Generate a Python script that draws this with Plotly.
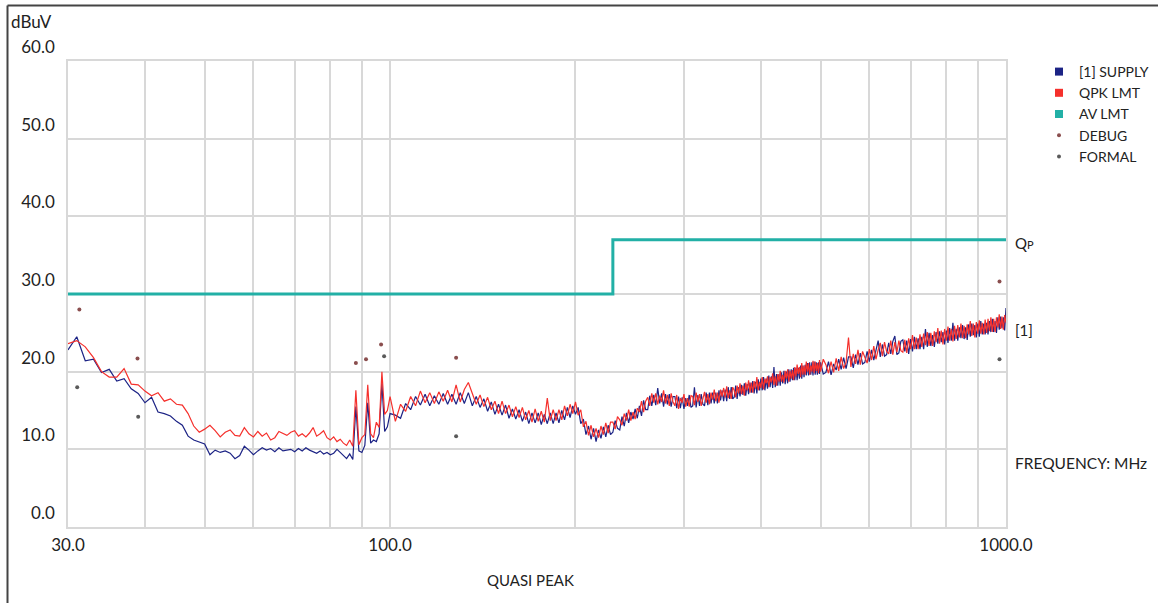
import math
import plotly.graph_objects as go

# ---------------- data ----------------
# sweep frequencies (MHz)
F_LOW = list(range(30, 100))          # 1 MHz step
F_MID = list(range(100, 230, 2))      # 2 MHz step
F_HIGH_A = list(range(230, 500, 2))   # 2 MHz step
F_HIGH_B = list(range(500, 1001, 5))  # 5 MHz step

# [1] SUPPLY trace (dBuV)
SUPPLY_LOW = [
    22.8, 24.5, 21.4, 21.6, 19.9, 20.3, 18.8, 19.1, 17.8, 17.2,
    16.0, 16.7, 14.8, 14.6, 14.3, 13.6, 13.1, 11.7, 11.2, 10.9,
    10.7, 9.3, 9.9, 9.6, 9.8, 9.5, 8.8, 9.2, 10.4, 9.9,
    9.3, 9.8, 10.2, 9.9, 10.1, 9.7, 10.2, 9.8, 9.9, 10.0,
    9.7, 10.1, 9.8, 10.2, 9.9, 9.7, 9.5, 9.8, 9.4, 9.6,
    9.3, 9.5, 10.0, 9.6, 9.2, 8.8, 9.4, 8.7, 15.5, 9.8,
    9.6, 10.5, 16.0, 10.8, 11.2, 11.0, 12.0, 18.5, 12.3, 12.9,
]
SUPPLY_MID = [
    14.6, 14.4, 14.0, 15.9, 15.1, 16.8, 15.7, 17.1, 15.6, 16.9,
    15.8, 17.2, 15.8, 17.1, 15.8, 17.3, 15.9, 17.3, 15.6, 16.8,
    15.4, 16.5, 14.9, 16.1, 14.5, 15.8, 14.4, 15.7, 14.0, 15.2,
    13.9, 15.1, 13.6, 14.8, 13.3, 14.7, 13.4, 14.7, 13.2, 14.5,
    13.3, 14.7, 13.3, 14.7, 13.4, 15.0, 13.8, 15.4, 14.1, 15.6,
    14.5, 15.4, 13.3, 13.9, 11.9, 13.0, 11.3, 12.7, 11.0, 12.5,
    11.4, 12.9, 11.6, 13.1, 11.9,
]
SUPPLY_HIGH_A = [
    12.2, 13.7, 12.7, 12.5, 14.2, 13.0, 14.7, 13.4, 14.8, 13.9,
    15.2, 14.0, 15.6, 14.3, 16.3, 15.1, 15.1, 16.9, 15.6, 17.0,
    15.7, 17.9, 15.9, 17.2, 15.5, 17.1, 15.8, 17.1, 15.5, 16.8,
    16.8, 15.3, 16.8, 15.3, 16.7, 15.2, 16.6, 15.6, 17.0, 15.4,
    15.6, 18.0, 15.4, 17.0, 15.6, 17.1, 15.8, 15.6, 17.3, 15.7,
    17.3, 15.9, 17.3, 15.9, 17.3, 15.9, 17.6, 16.3, 17.6, 16.2,
    17.7, 16.2, 18.0, 16.5, 18.0, 16.5, 16.7, 18.2, 16.5, 18.0,
    16.8, 18.3, 17.0, 18.5, 16.9, 18.4, 17.1, 18.6, 17.3, 18.8,
    17.2, 18.7, 17.2, 19.0, 17.6, 19.1, 17.6, 19.3, 17.6, 19.1,
    17.8, 19.5, 18.0, 19.4, 17.9, 20.6, 18.0, 19.7, 18.2, 19.7,
    18.2, 19.9, 18.5, 20.1, 18.4, 20.0, 18.5, 20.3, 18.7, 20.3,
    18.9, 20.5, 18.9, 20.5, 18.9, 20.5, 19.1, 20.8, 19.1, 20.8,
    19.3, 20.9, 19.5, 21.1, 19.5, 21.2, 19.6, 21.2, 19.5, 21.3,
    19.6, 21.2, 19.6, 21.2, 19.7,
]
SUPPLY_HIGH_B = [
    21.2, 19.7, 19.9, 21.3, 19.6, 21.0,
    20.2, 21.6, 20.3, 21.8, 20.4, 21.9, 21.9, 20.5, 22.2, 20.9,
    22.4, 21.0, 21.2, 22.6, 21.3, 22.8, 21.5, 23.0, 24.0, 21.9,
    23.5, 22.0, 22.2, 23.7, 22.3, 23.9, 24.6, 22.2, 22.4, 23.9,
    24.1, 22.6, 24.0, 22.3, 24.2, 22.6, 24.5, 22.9, 24.3, 22.9,
    24.5, 22.9, 25.5, 23.2, 25.0, 23.3, 24.7, 23.2, 25.1, 23.6,
    25.2, 23.8, 25.1, 23.5, 25.3, 23.7, 25.6, 24.0, 26.3, 24.0,
    25.5, 24.0, 25.7, 24.3, 26.0, 24.2, 25.7, 24.1, 26.1, 24.5,
    26.2, 24.7, 26.0, 24.4, 26.2, 24.5, 26.5, 24.8, 26.2, 24.8,
    26.3, 24.8, 26.5, 25.1, 26.8, 25.1, 26.5, 25.0, 27.0, 25.4,
    27.1, 25.6, 27.0, 25.3, 28.2,
]

# QPK LMT trace (dBuV)
QPK_LOW = [
    23.6, 24.0, 23.2, 21.8, 20.0, 19.3, 19.3, 20.4, 18.4, 18.3,
    17.5, 16.9, 17.3, 16.2, 16.5, 15.8, 15.7, 14.6, 13.0, 12.2,
    12.6, 13.1, 12.4, 11.6, 12.2, 12.5, 11.8, 11.7, 12.8, 12.0,
    11.6, 12.3, 11.7, 12.1, 11.2, 11.5, 12.3, 12.0, 11.8, 12.2,
    12.4, 11.7, 12.0, 11.6, 12.1, 12.8, 11.7, 12.0, 12.4, 11.5,
    11.2, 11.6, 11.0, 11.3, 10.8, 10.5, 11.2, 10.4, 17.6, 10.6,
    11.5, 11.9, 18.3, 12.0, 11.5, 13.5, 12.8, 20.0, 14.5, 15.0,
]
QPK_MID = [
    16.8, 13.6, 15.8, 14.9, 16.8, 15.6, 17.5, 16.0, 17.3, 15.9,
    17.4, 16.2, 17.6, 16.1, 18.3, 16.1, 17.7, 18.6, 17.3, 15.8,
    17.0, 15.5, 16.7, 15.1, 16.2, 14.6, 16.2, 14.6, 15.7, 14.2,
    15.5, 14.1, 15.4, 13.8, 15.0, 13.5, 15.2, 13.6, 14.9, 13.5,
    16.6, 13.7, 15.1, 13.7, 15.1, 13.8, 15.6, 14.3, 15.8, 14.6,
    16.1, 14.4, 15.1, 12.9, 13.6, 11.8, 13.1, 11.6, 12.7, 11.5,
    13.0, 11.9, 13.4, 12.1, 13.5,
]
QPK_HIGH_A = [
    13.5, 12.6, 14.2, 13.8, 13.1, 14.6, 13.7, 15.1, 13.7, 14.8,
    13.9, 15.3, 14.8, 16.2, 14.8, 16.2, 16.7, 15.6, 17.2, 16.0,
    17.2, 15.8, 16.9, 16.1, 17.6, 15.9, 17.0, 15.6, 17.2, 16.1,
    15.6, 17.0, 15.2, 16.6, 16.0, 17.1, 15.5, 16.6, 15.5, 16.9,
    16.8, 15.7, 17.3, 16.1, 17.1, 15.6, 16.7, 17.4, 16.0, 17.1,
    15.8, 17.3, 16.4, 17.7, 16.2, 17.3, 16.0, 17.7, 16.8, 17.9,
    16.7, 18.1, 16.6, 17.6, 16.5, 18.0, 17.6, 16.7, 18.2, 17.2,
    18.5, 17.1, 18.2, 16.9, 18.6, 17.6, 18.9, 17.3, 18.6, 17.3,
    18.8, 17.8, 19.3, 17.6, 18.7, 17.9, 19.3, 17.7, 19.1, 18.5,
    19.4, 18.0, 19.3, 18.6, 19.8, 18.3, 19.4, 18.2, 19.7, 18.7,
    20.1, 18.7, 19.6, 18.6, 20.1, 19.1, 20.3, 18.7, 20.1, 19.1,
    20.2, 18.9, 20.6, 19.4, 20.9, 19.7, 20.6, 19.3, 21.1, 19.6,
    20.8, 19.6, 21.3, 20.0, 21.1, 19.6, 20.8, 20.0, 21.4, 19.8,
    21.3, 20.1, 21.1, 19.8, 21.5,
]
QPK_HIGH_B = [
    20.0, 21.6, 20.9, 19.8, 21.3, 19.9,
    21.7, 20.1, 21.9, 20.4, 21.2, 24.4, 20.6, 22.3, 21.0, 22.8,
    20.9, 22.6, 21.8, 21.1, 22.9, 21.5, 23.3, 21.6, 22.8, 23.7,
    22.0, 23.8, 22.6, 22.3, 24.0, 22.2, 23.8, 22.5, 24.0, 22.7,
    22.5, 24.1, 22.4, 24.3, 22.9, 24.7, 22.9, 24.4, 22.9, 24.8,
    23.2, 24.9, 23.4, 25.1, 23.3, 25.0, 23.3, 25.2, 23.8, 25.6,
    23.6, 25.3, 23.5, 25.5, 24.0, 25.8, 24.0, 25.5, 23.9, 25.9,
    24.2, 26.0, 24.4, 26.2, 24.3, 25.9, 24.3, 26.1, 24.8, 26.5,
    24.6, 26.2, 24.4, 26.4, 24.9, 26.6, 24.9, 26.3, 24.8, 26.7,
    25.0, 26.8, 25.2, 27.0, 25.1, 26.8, 25.1, 27.0, 25.7, 27.4,
    25.5, 27.1, 25.4, 27.3, 26.3,
]

# AV LMT limit line
AV_LMT_FREQ = [30, 230, 1000]
AV_LMT_LEVEL = [30, 37, 37]

# measurement markers
DEBUG_FREQ = [31.3, 38.9, 88.0, 91.4, 96.7, 128.0, 976.0]
DEBUG_LEVEL = [28.0, 21.7, 21.1, 21.6, 23.5, 21.8, 31.6]
FORMAL_FREQ = [31.05, 39.0, 97.8, 128.0, 976.0]
FORMAL_LEVEL = [18.0, 14.2, 22.0, 11.7, 21.6]

# axis ticks
X_TICKS = [30, 40, 50, 60, 70, 80, 90, 100, 200, 300, 400, 500, 600, 700, 800, 900, 1000]
X_LABELED = {30: "30.0", 100: "100.0", 1000: "1000.0"}
Y_TICKS = [0, 10, 20, 30, 40, 50, 60]

FREQ = F_LOW + F_MID + F_HIGH_A + F_HIGH_B
SUPPLY = SUPPLY_LOW + SUPPLY_MID + SUPPLY_HIGH_A + SUPPLY_HIGH_B
QPK = QPK_LOW + QPK_MID + QPK_HIGH_A + QPK_HIGH_B

# ---------------- style ----------------
NAVY = "#1c2385"
RED = "#f5302c"
TEAL = "#22b0a6"
DEBUG_C = "#8a4e4e"
FORMAL_C = "#5a5a5a"
GRID = "#d8d8d8"
TXT = "#222222"
FONT = "Lato"

W, H = 1158, 603
L, R, T, B = 68, 152, 61, 76
PW, PH = W - L - R, H - T - B


def px(x):
    return (x - L) / PW


def py(y):
    return (H - B - y) / PH


fig = go.Figure()

fig.add_trace(go.Scatter(x=FREQ, y=SUPPLY, mode="lines",
                         line=dict(color=NAVY, width=1.2), showlegend=False, hoverinfo="skip"))
fig.add_trace(go.Scatter(x=FREQ, y=QPK, mode="lines",
                         line=dict(color=RED, width=1.2), showlegend=False, hoverinfo="skip"))
fig.add_trace(go.Scatter(x=AV_LMT_FREQ, y=AV_LMT_LEVEL, mode="lines", line_shape="hv",
                         line=dict(color=TEAL, width=3), showlegend=False))

# legend entries
fig.add_trace(go.Scatter(x=[None], y=[None], mode="markers", name="[1] SUPPLY", legendrank=1,
                         marker=dict(symbol="square", size=8, color=NAVY)))
fig.add_trace(go.Scatter(x=[None], y=[None], mode="markers", name="QPK LMT", legendrank=2,
                         marker=dict(symbol="square", size=8, color=RED)))
fig.add_trace(go.Scatter(x=[None], y=[None], mode="markers", name="AV LMT", legendrank=3,
                         marker=dict(symbol="square", size=8, color=TEAL)))
fig.add_trace(go.Scatter(x=DEBUG_FREQ, y=DEBUG_LEVEL, mode="markers", name="DEBUG", legendrank=4,
                         marker=dict(size=4, color=DEBUG_C)))
fig.add_trace(go.Scatter(x=FORMAL_FREQ, y=FORMAL_LEVEL, mode="markers", name="FORMAL", legendrank=5,
                         marker=dict(size=4, color=FORMAL_C)))

fig.update_xaxes(type="log", range=[math.log10(30), math.log10(1000)], automargin=False,
                 tickvals=X_TICKS, ticktext=[X_LABELED.get(v, "") for v in X_TICKS],
                 showgrid=True, gridcolor=GRID, gridwidth=1.5,
                 showline=True, mirror=True, linecolor=GRID, linewidth=1.5,
                 zeroline=False, ticks="", ticklabelstandoff=2,
                 tickfont=dict(family=FONT, size=17, color=TXT))
fig.update_yaxes(range=[0, 60], tickvals=Y_TICKS, ticktext=[f"{v:.1f}" for v in Y_TICKS],
                 automargin=False,
                 showgrid=True, gridcolor=GRID, gridwidth=1.5,
                 showline=True, mirror=True, linecolor=GRID, linewidth=1.5,
                 zeroline=False, ticks="", ticklabelstandoff=8, ticklabelshift=-14,
                 tickfont=dict(family=FONT, size=17, color=TXT))

ann = dict(showarrow=False, xref="paper", yref="paper")
fig.add_annotation(text="dBuV", x=px(9), y=py(22), xanchor="left", yanchor="middle",
                   font=dict(family=FONT, size=17, color=TXT), **ann)
fig.add_annotation(text="QUASI PEAK", x=px(530), y=py(580), xanchor="center", yanchor="middle",
                   font=dict(family=FONT, size=15, color=TXT), **ann)
fig.add_annotation(text="FREQUENCY: MHz", x=px(1013), y=py(463), xanchor="left", yanchor="middle",
                   font=dict(family=FONT, size=15.5, color=TXT), **ann)
fig.add_annotation(text="Q<span style='font-size:11px'>P</span>", x=px(1013), y=py(243),
                   xanchor="left", yanchor="middle", font=dict(family=FONT, size=15, color=TXT), **ann)
fig.add_annotation(text="[1]", x=px(1013), y=py(330), xanchor="left", yanchor="middle",
                   font=dict(family=FONT, size=15, color=TXT), **ann)

# outer frame (top and left edges)
fig.add_shape(type="line", xref="paper", yref="paper", x0=px(7.5), x1=px(W), y0=py(5.5), y1=py(5.5),
              line=dict(color="#444444", width=2))
fig.add_shape(type="line", xref="paper", yref="paper", x0=px(7.5), x1=px(7.5), y0=py(5.5), y1=py(H),
              line=dict(color="#444444", width=2))

fig.update_layout(
    width=W, height=H,
    margin=dict(l=L, r=R, t=T, b=B, autoexpand=False),
    paper_bgcolor="white", plot_bgcolor="white",
    font=dict(family=FONT, color=TXT),
    legend=dict(x=px(1039), y=py(56), xanchor="left", yanchor="top",
                font=dict(family=FONT, size=14, color=TXT),
                bgcolor="rgba(0,0,0,0)", itemwidth=30, tracegroupgap=0),
    showlegend=True,
)

fig.write_html("out.html", config={"displayModeBar": False},
               post_script="document.body.style.margin='0px';")
